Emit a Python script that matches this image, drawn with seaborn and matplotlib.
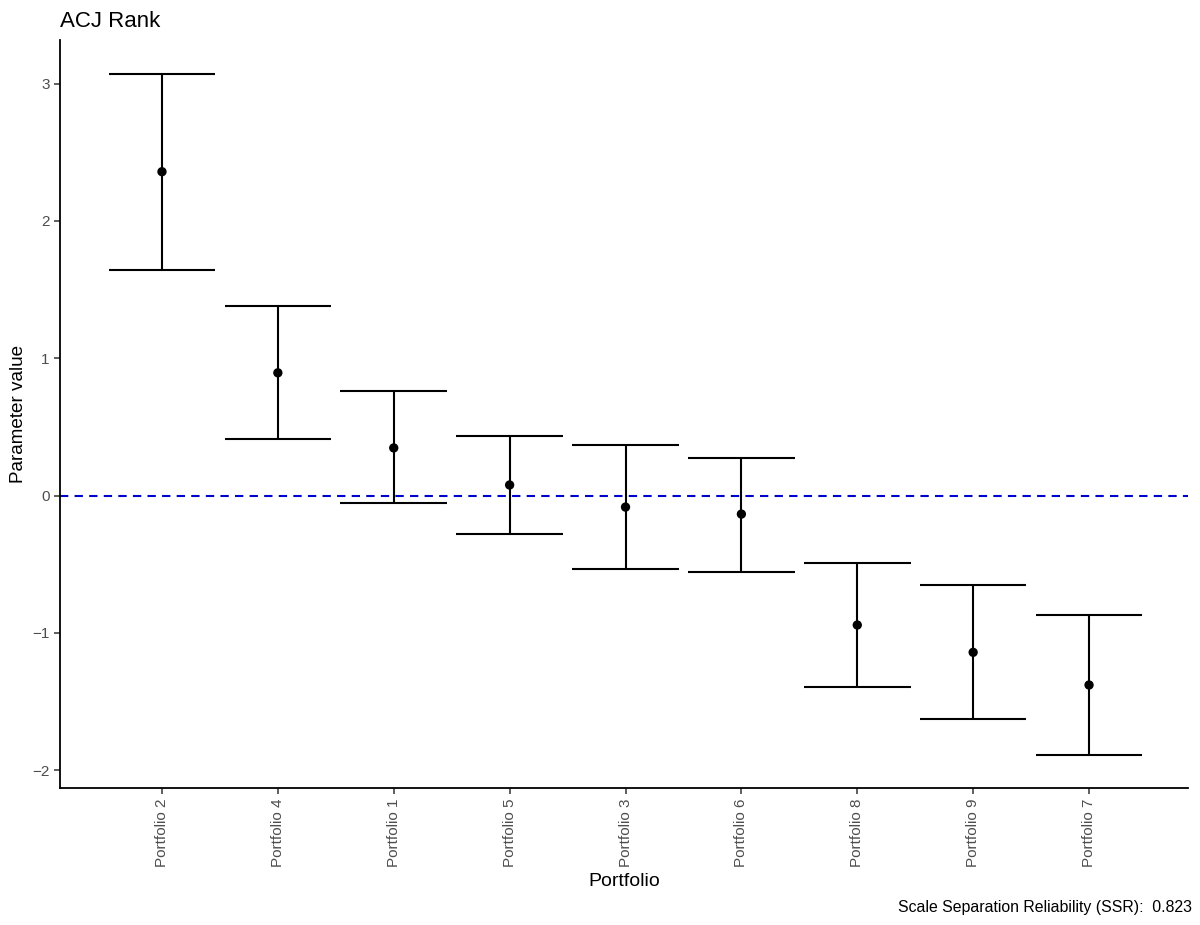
import pandas as pd
import seaborn as sns
import matplotlib.pyplot as plt
import numpy as np

# Portfolio estimates (sorted by value)
portfolios = ['Portfolio 2', 'Portfolio 4', 'Portfolio 1', 'Portfolio 5', 'Portfolio 3',
              'Portfolio 6', 'Portfolio 8', 'Portfolio 9', 'Portfolio 7']
estimates = [2.359, 0.894, 0.347, 0.077, -0.084, -0.135, -0.943, -1.142, -1.380]
upper = [3.073, 1.380, 0.758, 0.434, 0.368, 0.274, -0.493, -0.652, -0.870]
lower = [1.644, 0.413, -0.055, -0.280, -0.536, -0.557, -1.393, -1.630, -1.888]
ssr = 0.823

df = pd.DataFrame({'portfolio': portfolios, 'value': estimates,
                   'upper': upper, 'lower': lower})

sns.set_theme(style='ticks')
plt.rcParams['font.family'] = ['Liberation Sans', 'DejaVu Sans']

fig = plt.figure(figsize=(12, 9.25), dpi=100)
ax = fig.add_axes([0.05, 0.148, 0.94, 0.809])

# error bars with wide caps, drawn at the category positions
pos = np.arange(len(df))
cap = 0.46
ax.vlines(pos, df['lower'], df['upper'], color='black', linewidth=1.5, zorder=2)
ax.hlines(df['upper'], pos - cap, pos + cap, color='black', linewidth=1.5, zorder=2)
ax.hlines(df['lower'], pos - cap, pos + cap, color='black', linewidth=1.5, zorder=2)

sns.scatterplot(data=df, x='portfolio', y='value', color='black', s=45,
                edgecolor='none', zorder=3, ax=ax)

ax.axhline(0, color='#0000CC', linestyle=(0, (4, 3)), linewidth=1.5, zorder=1)

ax.set_xlim(-0.88, len(df) - 1 + 0.854)
ax.set_ylim(-2.131, 3.32)
ax.set_yticks([-2, -1, 0, 1, 2, 3])
ax.set_yticklabels(['\u22122', '\u22121', '0', '1', '2', '3'])

sns.despine(ax=ax)
for s in ['left', 'bottom']:
    ax.spines[s].set_linewidth(1.3)
    ax.spines[s].set_color('black')
ax.tick_params(axis='both', colors='#333333', labelcolor='#4D4D4D',
               labelsize=11, length=4, width=1.1)
plt.setp(ax.get_xticklabels(), rotation=90)

ax.set_xlabel('Portfolio', fontsize=14, color='black', labelpad=4)
ax.set_ylabel('Parameter value', fontsize=13.6, color='black', labelpad=4)
ax.set_title('ACJ Rank', loc='left', fontsize=16, color='black', pad=9)

fig.text(0.993, 0.019, f'Scale Separation Reliability (SSR):  {ssr}',
         ha='right', va='center', fontsize=11.4, color='black')

plt.savefig('out.png', dpi=100)
